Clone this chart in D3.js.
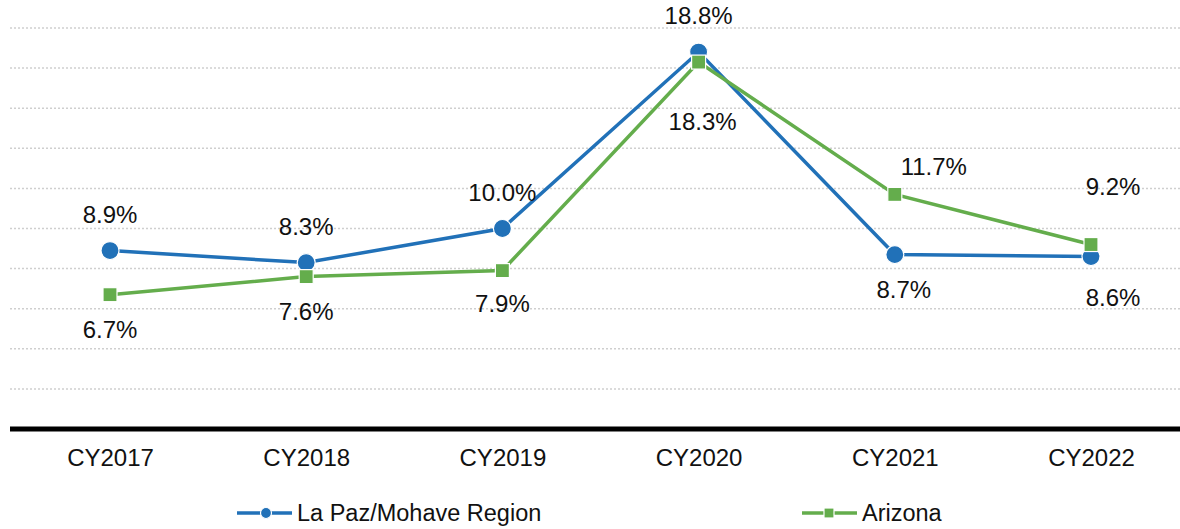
<!DOCTYPE html>
<html>
<head>
<meta charset="utf-8">
<script src="https://cdn.jsdelivr.net/npm/d3@7"></script>
<style>
  html, body { margin: 0; padding: 0; background: #fff; }
  svg { display: block; font-family: "Liberation Sans", Arial, sans-serif; }
</style>
</head>
<body>
<svg id="chart" width="1180" height="529"></svg>
<script>
// Annual rates by calendar year
const categories = ["CY2017", "CY2018", "CY2019", "CY2020", "CY2021", "CY2022"];
const laPazMohave = [8.9, 8.3, 10.0, 18.8, 8.7, 8.6];
const arizona = [6.7, 7.6, 7.9, 18.3, 11.7, 9.2];
const seriesNames = ["La Paz/Mohave Region", "Arizona"];
const gridTicks = [2, 4, 6, 8, 10, 12, 14, 16, 18, 20];

// Label offsets (dx, dy) relative to each marker, per series
const laPazLabelOffsets = [[0, -36], [0, -36], [0, -36], [0, -36], [9, 35], [22, 41]];
const arizonaLabelOffsets = [[0, 35], [0, 35], [0, 33], [4, 60], [39, -28], [22, -58]];

const BLUE = "#2171b8";
const GREEN = "#64ad4c";
const FONT_SIZE = 24;

const svg = d3.select("#chart");

const x = d3.scalePoint()
  .domain(categories)
  .range([110, 1091]);

const y = d3.scaleLinear()
  .domain([0, 20])
  .range([429, 28]);

// Dotted horizontal gridlines
svg.append("g")
  .selectAll("line")
  .data(gridTicks)
  .join("line")
  .attr("x1", 10)
  .attr("x2", 1180)
  .attr("y1", d => y(d))
  .attr("y2", d => y(d))
  .attr("stroke", "#cfcfcf")
  .attr("stroke-width", 1.5)
  .attr("stroke-dasharray", "2,2");

// Category axis
const xAxis = svg.append("g")
  .attr("transform", `translate(0,${y(0)})`)
  .call(d3.axisBottom(x).tickSize(0));
xAxis.select(".domain").remove();
xAxis.selectAll("text")
  .attr("y", 29)
  .attr("dy", "0.35em")
  .attr("font-size", FONT_SIZE)
  .attr("font-family", "'Liberation Sans', Arial, sans-serif")
  .attr("fill", "#111");
svg.append("line")
  .attr("x1", 10)
  .attr("x2", 1180)
  .attr("y1", y(0))
  .attr("y2", y(0))
  .attr("stroke", "#000")
  .attr("stroke-width", 5);

const line = d3.line()
  .x((d, i) => x(categories[i]))
  .y(d => y(d));

const fmt = d => d.toFixed(1) + "%";

function drawSeries(values, color, shape) {
  const g = svg.append("g");
  g.append("path")
    .datum(values)
    .attr("d", line)
    .attr("fill", "none")
    .attr("stroke", color)
    .attr("stroke-width", 3.5);

  if (shape === "circle") {
    g.selectAll("circle")
      .data(values)
      .join("circle")
      .attr("cx", (d, i) => x(categories[i]))
      .attr("cy", d => y(d))
      .attr("r", 9)
      .attr("fill", color)
      .attr("stroke", "#fff")
      .attr("stroke-width", 1.2);
  } else {
    const s = 14;
    g.selectAll("rect")
      .data(values)
      .join("rect")
      .attr("x", (d, i) => x(categories[i]) - s / 2)
      .attr("y", d => y(d) - s / 2)
      .attr("width", s)
      .attr("height", s)
      .attr("fill", color)
      .attr("stroke", "#fff")
      .attr("stroke-width", 1.2);
  }
  return g;
}

function drawLabels(values, offsets) {
  svg.append("g")
    .selectAll("text")
    .data(values)
    .join("text")
    .attr("x", (d, i) => x(categories[i]) + offsets[i][0])
    .attr("y", (d, i) => y(d) + offsets[i][1])
    .attr("dy", "0.35em")
    .attr("text-anchor", "middle")
    .attr("font-size", FONT_SIZE)
    .attr("fill", "#111")
    .text(fmt);
}

drawSeries(laPazMohave, BLUE, "circle");
drawSeries(arizona, GREEN, "square");
drawLabels(laPazMohave, laPazLabelOffsets);
drawLabels(arizona, arizonaLabelOffsets);

// Legend
const legendItems = [
  { name: seriesNames[0], color: BLUE, shape: "circle", x: 237 },
  { name: seriesNames[1], color: GREEN, shape: "square", x: 802 }
];
const legendY = 513;
const lg = svg.append("g");
legendItems.forEach(item => {
  const g = lg.append("g").attr("transform", `translate(${item.x},${legendY})`);
  g.append("line")
    .attr("x1", 0).attr("x2", 55)
    .attr("y1", 0).attr("y2", 0)
    .attr("stroke", item.color)
    .attr("stroke-width", 3.5);
  if (item.shape === "circle") {
    g.append("circle").attr("cx", 29).attr("cy", 0).attr("r", 5.5)
      .attr("fill", item.color).attr("stroke", "#fff").attr("stroke-width", 1.2);
  } else {
    g.append("rect").attr("x", 22).attr("y", -5).attr("width", 10).attr("height", 10)
      .attr("fill", item.color).attr("stroke", "#fff").attr("stroke-width", 1.2);
  }
  g.append("text")
    .attr("x", 60)
    .attr("y", 0)
    .attr("dy", "0.35em")
    .attr("font-size", 23.5)
    .attr("fill", "#111")
    .text(item.name);
});
</script>
</body>
</html>
